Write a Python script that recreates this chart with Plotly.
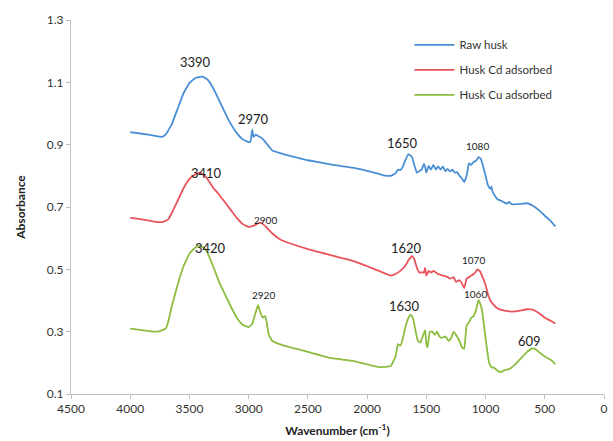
import plotly.graph_objects as go

# FTIR spectra of rice husk before and after metal adsorption
wn_raw = [4000, 3900, 3800, 3730, 3700, 3650, 3600, 3550, 3500, 3450, 3390, 3350, 3300, 3250,
          3200, 3150, 3100, 3050, 3000, 2985, 2970, 2960, 2940, 2920, 2900, 2870, 2850, 2820,
          2800, 2700, 2500, 2300, 2100, 2000, 1900, 1850, 1800, 1760, 1740, 1720, 1700, 1680,
          1650, 1620, 1600, 1580, 1560, 1540, 1520, 1510, 1500, 1480, 1460, 1440, 1420, 1400,
          1380, 1360, 1340, 1320, 1300, 1280, 1260, 1240, 1220, 1200, 1180, 1160, 1140, 1120,
          1100, 1080, 1060, 1040, 1020, 1000, 980, 960, 950, 940, 920, 900, 870, 850, 820, 800,
          780, 700, 650, 600, 550, 500, 450, 410]
abs_raw = [0.940, 0.935, 0.929, 0.925, 0.933, 0.965, 1.015, 1.065, 1.098, 1.114, 1.118, 1.110,
           1.082, 1.043, 1.003, 0.966, 0.937, 0.917, 0.908, 0.910, 0.948, 0.925, 0.932, 0.928,
           0.924, 0.914, 0.904, 0.890, 0.881, 0.869, 0.850, 0.836, 0.825, 0.816, 0.806, 0.801,
           0.800, 0.808, 0.820, 0.818, 0.828, 0.848, 0.870, 0.860, 0.832, 0.810, 0.815, 0.820,
           0.838, 0.828, 0.810, 0.832, 0.820, 0.835, 0.820, 0.830, 0.820, 0.830, 0.815, 0.822,
           0.814, 0.820, 0.810, 0.812, 0.800, 0.792, 0.780, 0.800, 0.840, 0.835, 0.845, 0.848,
           0.860, 0.855, 0.830, 0.800, 0.770, 0.758, 0.765, 0.748, 0.735, 0.725, 0.720, 0.716,
           0.711, 0.716, 0.709, 0.710, 0.712, 0.704, 0.690, 0.672, 0.655, 0.638]

wn_cd = [4000, 3900, 3800, 3720, 3680, 3650, 3600, 3550, 3500, 3450, 3410, 3370, 3330, 3300,
         3250, 3200, 3150, 3100, 3050, 3000, 2950, 2920, 2900, 2880, 2850, 2800, 2750, 2700,
         2500, 2300, 2100, 2000, 1900, 1800, 1760, 1720, 1680, 1650, 1620, 1600, 1580, 1560,
         1540, 1520, 1510, 1500, 1480, 1460, 1440, 1400, 1360, 1320, 1300, 1270, 1250, 1220,
         1200, 1180, 1160, 1140, 1120, 1100, 1080, 1070, 1050, 1030, 1000, 980, 960, 940, 900,
         850, 800, 750, 700, 650, 600, 550, 500, 450, 410]
abs_cd = [0.665, 0.660, 0.653, 0.652, 0.660, 0.680, 0.720, 0.760, 0.790, 0.805, 0.810, 0.800,
          0.780, 0.762, 0.740, 0.715, 0.690, 0.665, 0.645, 0.636, 0.641, 0.648, 0.650, 0.645,
          0.635, 0.615, 0.600, 0.590, 0.565, 0.545, 0.525, 0.510, 0.495, 0.480, 0.485, 0.495,
          0.510, 0.530, 0.542, 0.530, 0.505, 0.490, 0.490, 0.490, 0.505, 0.480, 0.495, 0.490,
          0.495, 0.485, 0.480, 0.475, 0.470, 0.475, 0.460, 0.465, 0.455, 0.440, 0.470, 0.475,
          0.480, 0.485, 0.493, 0.500, 0.495, 0.480, 0.450, 0.420, 0.400, 0.390, 0.375, 0.368,
          0.365, 0.365, 0.368, 0.372, 0.370, 0.360, 0.345, 0.335, 0.326]

wn_cu = [4000, 3900, 3800, 3750, 3700, 3680, 3650, 3600, 3550, 3500, 3450, 3420, 3380, 3350,
         3300, 3250, 3200, 3150, 3100, 3050, 3000, 2970, 2950, 2930, 2920, 2900, 2880, 2860,
         2850, 2830, 2800, 2700, 2500, 2300, 2100, 2000, 1900, 1800, 1760, 1740, 1720, 1700,
         1680, 1650, 1630, 1610, 1590, 1570, 1550, 1530, 1510, 1500, 1490, 1470, 1450, 1430,
         1410, 1390, 1370, 1340, 1310, 1290, 1270, 1250, 1220, 1200, 1180, 1160, 1140, 1120,
         1100, 1080, 1060, 1050, 1030, 1010, 990, 970, 950, 930, 900, 870, 850, 800, 750, 700,
         650, 609, 580, 550, 500, 450, 410]
abs_cu = [0.310, 0.305, 0.300, 0.302, 0.310, 0.330, 0.380, 0.450, 0.510, 0.550, 0.570, 0.575,
          0.570, 0.555, 0.510, 0.460, 0.420, 0.380, 0.345, 0.322, 0.315, 0.325, 0.350, 0.375,
          0.385, 0.360, 0.345, 0.350, 0.335, 0.290, 0.270, 0.255, 0.235, 0.215, 0.205, 0.195,
          0.186, 0.190, 0.220, 0.260, 0.255, 0.275, 0.310, 0.345, 0.355, 0.340, 0.300, 0.270,
          0.265, 0.285, 0.305, 0.260, 0.250, 0.300, 0.300, 0.290, 0.300, 0.285, 0.280, 0.285,
          0.270, 0.280, 0.300, 0.290, 0.270, 0.250, 0.245, 0.320, 0.330, 0.345, 0.350, 0.370,
          0.402, 0.395, 0.370, 0.310, 0.250, 0.200, 0.185, 0.185, 0.175, 0.170, 0.175, 0.180,
          0.195, 0.215, 0.235, 0.246, 0.244, 0.235, 0.220, 0.210, 0.196]

series = [
    ("Raw husk", wn_raw, abs_raw, "#4a8fd4"),
    ("Husk Cd adsorbed", wn_cd, abs_cd, "#e9535a"),
    ("Husk Cu adsorbed", wn_cu, abs_cu, "#8cbd3f"),
]

# Peak labels: text, position (wavenumber, absorbance) and font size
peak_text = ["3390", "2970", "1650", "1080", "3410", "2900", "1620", "1070",
             "3420", "2920", "1630", "1060", "609"]
peak_wn = [3452, 2958, 1700, 1072, 3352, 2857, 1667, 1105, 3326, 2874, 1684, 1089, 628]
peak_abs = [1.165, 0.982, 0.905, 0.896, 0.809, 0.658, 0.568, 0.530, 0.568, 0.418, 0.382, 0.421, 0.270]
peak_size = [13, 13, 13, 10, 13, 10, 13, 10, 13, 10, 13, 10, 13]

fig = go.Figure()
for name, x, y, color in series:
    fig.add_trace(go.Scatter(x=x, y=y, mode="lines", name=name, legendgroup=name,
                             line=dict(color=color, width=1.8, shape="spline", smoothing=0.3)))

for t, x, y, s in zip(peak_text, peak_wn, peak_abs, peak_size):
    fig.add_annotation(x=x, y=y, text=t, showarrow=False,
                       font=dict(size=s, color="#222222", family="Lato"))

axis_common = dict(showline=True, linecolor="#bfbfbf", linewidth=1, showgrid=False,
                   zeroline=False, ticks="outside", ticklen=4, tickcolor="#bfbfbf",
                   tickfont=dict(size=12, color="#333333", family="Lato"))

fig.update_layout(
    width=613, height=441,
    margin=dict(l=71, r=5, t=20, b=47),
    plot_bgcolor="white", paper_bgcolor="white",
    font=dict(family="Lato", color="#333333"),
    xaxis=dict(range=[4500, 0], dtick=500, tick0=0,
               title=dict(text="<b>Wavenumber (cm<sup>-1</sup>)</b>",
                          font=dict(size=12, color="#222222"), standoff=11),
               **axis_common),
    yaxis=dict(range=[0.1, 1.3], dtick=0.2, tick0=0.1, tickformat=".1f",
               title=dict(text="<b>Absorbance</b>", font=dict(size=12, color="#222222"),
                          standoff=18),
               **axis_common),
    legend=dict(x=0.635, y=0.972, xanchor="left", yanchor="top",
                bgcolor="rgba(0,0,0,0)", tracegroupgap=6,
                font=dict(size=11.5, color="#333333", family="Lato"),
                itemwidth=40),
)

fig.write_html("out.html")
